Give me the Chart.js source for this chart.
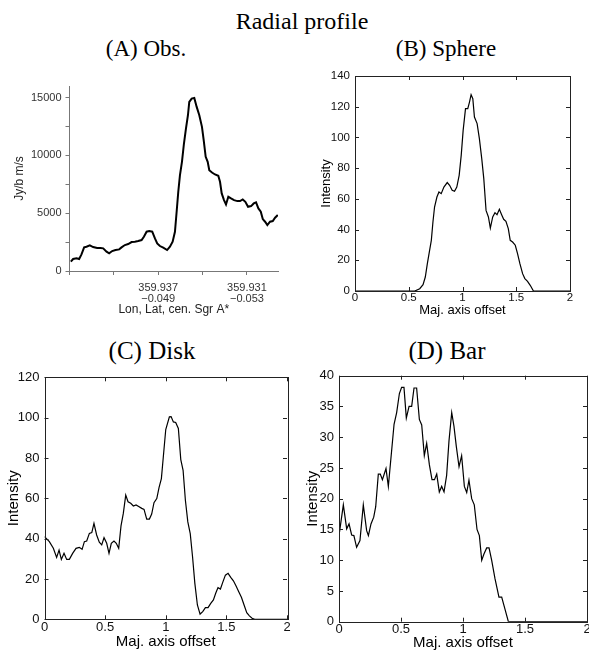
<!DOCTYPE html>
<html>
<head>
<meta charset="utf-8">
<script src="https://cdn.jsdelivr.net/npm/chart.js@4.4.0/dist/chart.umd.min.js"></script>
<style>
  body { margin: 0; background: #fff; width: 589px; height: 652px; position: relative; overflow: hidden; }
  canvas { position: absolute; }
  .ttl { position: absolute; font-family: 'Liberation Serif', 'Times New Roman', serif; font-size: 23px; line-height: 23px;
         white-space: nowrap; transform: translateX(-50%); color: #000; }
</style>
</head>
<body>
<div class="ttl" style="left:302px;top:9px;font-size:24px;line-height:24px">Radial profile</div>
<div class="ttl" style="left:146px;top:37px">(A) Obs.</div>
<div class="ttl" style="left:446px;top:37px">(B) Sphere</div>
<div class="ttl" style="left:152px;top:338px;font-size:25px;line-height:25px">(C) Disk</div>
<div class="ttl" style="left:447px;top:338px;font-size:25px;line-height:25px">(D) Bar</div>

<canvas id="obsChart" width="290" height="265" style="left:0;top:60px"></canvas>
<canvas id="sphereChart" width="294" height="265" style="left:295px;top:65px"></canvas>
<canvas id="diskChart" width="295" height="287" style="left:0;top:365px"></canvas>
<canvas id="barChart" width="294" height="287" style="left:295px;top:365px"></canvas>

<script>
// (A) observed profile, x in tick units along the cut
const obsX = [0.03, 0.082, 0.158, 0.217, 0.27, 0.33, 0.383, 0.458, 0.533, 0.623, 0.7, 0.76, 0.835, 0.894, 0.962,
  1.038, 1.12, 1.173, 1.248, 1.323, 1.4, 1.474, 1.549, 1.625, 1.677, 1.738, 1.797, 1.865, 1.926, 1.977,
  2.038, 2.113, 2.2, 2.264, 2.325, 2.377, 2.415, 2.452, 2.49, 2.535, 2.58, 2.625, 2.67, 2.7, 2.754, 2.813,
  2.867, 2.926, 2.986, 3.025, 3.07, 3.115, 3.151, 3.212, 3.28, 3.354, 3.393, 3.431, 3.483, 3.528, 3.58,
  3.641, 3.709, 3.784, 3.844, 3.905, 3.964, 4.025, 4.093, 4.153, 4.205, 4.258, 4.312, 4.357, 4.409, 4.46,
  4.52, 4.582, 4.634, 4.695];
const obsY = [803, 1036, 1094, 1036, 1439, 2044, 2100, 2216, 2073, 1986, 1986, 1957, 1669, 1525, 1727,
  1814, 1871, 2044, 2245, 2332, 2505, 2534, 2591, 2677, 2965, 3397, 3454, 3397, 2821, 2390,
  2159, 2015, 1814, 2101, 2534, 3397, 5124, 6851, 8291, 9440, 11026, 12320, 13472, 14625, 14913, 14970,
  14193, 13472, 12464, 11313, 9872, 9440, 8723, 8522, 8349, 8233, 7712, 6710, 6132, 5757, 6419,
  6275, 6132, 6045, 6045, 6189, 5987, 5555, 5613, 5843, 5930, 5411, 5124, 4491, 4261, 3972,
  4261, 4318, 4606, 4836];
const obsXTicks = [0, 1, 2, 3, 4];
const obsXLabels = ['', '', ['359.937', '\u22120.049'], '', ['359.931', '\u22120.053']];
const obsYTicks = [0, 2500, 5000, 7500, 10000, 12500, 15000];

// (B) sphere model
const sphereX = [0, 0.556, 0.602, 0.633, 0.654, 0.673, 0.694, 0.71, 0.725, 0.74, 0.762, 0.781, 0.802, 0.827,
  0.858, 0.88, 0.904, 0.926, 0.947, 0.969, 0.988, 1.006, 1.028, 1.049, 1.065, 1.08, 1.096, 1.111, 1.136,
  1.157, 1.179, 1.198, 1.219, 1.241, 1.259, 1.281, 1.302, 1.321, 1.343, 1.364, 1.383, 1.404, 1.426, 1.444,
  1.466, 1.491, 1.512, 1.534, 1.559, 1.58, 1.605, 1.63, 1.66, 2];
const sphereY = [0, 0, 1.5, 4.1, 9.1, 17.8, 26.5, 33, 44.9, 54.7, 61.2, 64.5, 63.4, 67.7,
  70.6, 68.8, 65.6, 64.9, 67.7, 75.3, 88.3, 104.6, 118.7, 118.7, 123, 127.8, 125.2, 113.3, 109,
  99.2, 86.2, 73.2, 52.5, 48.2, 41, 48.2, 51, 49.7, 53.2, 49.7, 46.7, 45.4, 40.6, 33,
  31.9, 29.8, 24.3, 17.8, 11.3, 8.1, 6.3, 3.7, 0, 0];

// (C) disk model
const diskX = [0, 0.04, 0.073, 0.1, 0.12, 0.139, 0.161, 0.183, 0.205, 0.232, 0.26, 0.287, 0.31, 0.329, 0.348,
  0.37, 0.39, 0.408, 0.43, 0.452, 0.472, 0.491, 0.513, 0.532, 0.551, 0.573, 0.592, 0.612, 0.631, 0.65,
  0.67, 0.689, 0.711, 0.733, 0.755, 0.777, 0.802, 0.821, 0.843, 0.865, 0.884, 0.903, 0.926, 0.945, 0.964,
  0.98, 1.0, 1.03, 1.044, 1.063, 1.082, 1.104, 1.124, 1.143, 1.162, 1.182, 1.202, 1.221, 1.24, 1.261,
  1.283, 1.305, 1.327, 1.349, 1.371, 1.393, 1.412, 1.431, 1.451, 1.47, 1.492, 1.514, 1.536, 1.558, 1.58,
  1.602, 1.624, 1.646, 1.668, 1.69, 1.712, 1.734, 2];
const diskY = [41, 38.5, 35.2, 30.7, 34.3, 29.7, 32.7, 29.7, 29.7, 32.7, 35.2, 35.7, 34.7, 38.5, 38.8,
  42.6, 43, 47.6, 41.8, 38.2, 36.9, 40.5, 37.7, 32.7, 37.7, 38.8, 37.7, 35.2, 46.3, 52.5,
  61.6, 58.3, 57.5, 56.2, 56.7, 55.9, 55, 54.5, 49.7, 49.7, 52.2, 57.8, 59.9, 65.4, 69.8,
  80.6, 94.1, 100.4, 100.5, 97.9, 97.6, 94.6, 79.2, 73.9, 59, 48.3, 42.5, 31, 17.8, 7.1,
  2.6, 3.8, 5.8, 5.8, 7.9, 9.6, 12.9, 15.7, 15, 18.3, 21.9, 22.8, 20.8, 19.1, 16.5,
  13.7, 10.9, 7.1, 3.3, 1.7, 0.5, 0, 0];

// (D) bar model
const barX = [0, 0.035, 0.062, 0.081, 0.102, 0.12, 0.142, 0.169, 0.196, 0.223, 0.237, 0.258, 0.28, 0.296,
  0.317, 0.333, 0.35, 0.379, 0.398, 0.444, 0.465, 0.487, 0.505, 0.524, 0.543, 0.565, 0.586, 0.605, 0.626,
  0.648, 0.667, 0.688, 0.707, 0.729, 0.75, 0.77, 0.788, 0.809, 0.828, 0.847, 0.868, 0.887, 0.909, 0.927,
  0.946, 0.968, 0.989, 1.011, 1.03, 1.048, 1.07, 1.091, 1.113, 1.132, 1.151, 1.169, 1.191, 1.21, 1.231,
  1.258, 1.29, 1.312, 1.339, 1.366, 2];
const barY = [14, 19, 15.1, 15.9, 14.1, 14, 12.1, 13.2, 19, 14.8, 14, 15.9, 17, 18.7,
  24, 24, 23.1, 24.9, 22, 32.1, 34, 37.1, 38.1, 38.1, 33.1, 35, 35, 38, 38,
  32.9, 32, 27, 29, 25.5, 23.1, 23.1, 24, 21.1, 22, 21.1, 23.8, 29.4, 34, 31.8,
  28.5, 25.2, 27, 22, 21, 23, 20, 19, 15, 14, 10, 11, 12, 12, 10,
  7, 4, 4, 2, 0, 0];

Chart.defaults.font.family = "'Liberation Sans', Arial, sans-serif";
Chart.defaults.color = '#000';
Chart.defaults.animation = false;

function toPoints(xs, ys) {
  return xs.map((x, i) => ({ x: x, y: ys[i] }));
}

// matplotlib-style frame with inward ticks on all four sides
const boxTicks = {
  id: 'boxTicks',
  afterDraw(chart) {
    const { ctx, chartArea: a, scales } = chart;
    const len = 4;
    ctx.save();
    ctx.strokeStyle = '#222';
    ctx.lineWidth = 1;
    ctx.beginPath();
    scales.x.ticks.forEach(t => {
      const px = Math.round(scales.x.getPixelForValue(t.value)) + 0.5;
      ctx.moveTo(px, a.bottom); ctx.lineTo(px, a.bottom - len);
      ctx.moveTo(px, a.top); ctx.lineTo(px, a.top + len);
    });
    scales.y.ticks.forEach(t => {
      const py = Math.round(scales.y.getPixelForValue(t.value)) + 0.5;
      ctx.moveTo(a.left, py); ctx.lineTo(a.left + len, py);
      ctx.moveTo(a.right, py); ctx.lineTo(a.right - len, py);
    });
    ctx.stroke();
    ctx.strokeRect(Math.round(a.left) + 0.5, Math.round(a.top) + 0.5,
      Math.round(a.right - a.left), Math.round(a.bottom - a.top));
    ctx.restore();
  }
};

function fixWidth(w) {
  return function (s) { s.width = w; s.paddingTop = 0; s.paddingBottom = 0; };
}
function fixHeight(h) {
  return function (s) { s.height = h; s.paddingLeft = 0; s.paddingRight = 0; };
}

function modelChart(id, xs, ys, yMax, yStep, box) {
  new Chart(document.getElementById(id), {
    type: 'scatter',
    data: {
      datasets: [{
        data: toPoints(xs, ys),
        showLine: true,
        borderColor: '#000',
        borderWidth: 1.2,
        pointRadius: 0,
        tension: 0
      }]
    },
    options: {
      responsive: false,
      layout: { padding: { top: box.padTop, right: box.padRight, left: 0, bottom: 0 } },
      plugins: { legend: { display: false }, tooltip: { enabled: false } },
      scales: {
        x: {
          type: 'linear', min: 0, max: 2,
          ticks: { stepSize: 0.5, padding: box.xTickPad, font: { size: box.tickSize }, color: '#111',
                   callback: v => String(v) },
          grid: { display: false, drawTicks: false },
          border: { display: false },
          title: { display: true, text: 'Maj. axis offset', font: { size: box.titleSize },
                   padding: { top: 0, bottom: box.xTitlePad } },
          afterFit: fixHeight(box.xHeight)
        },
        y: {
          min: 0, max: yMax,
          ticks: { stepSize: yStep, padding: 5, font: { size: box.tickSize }, color: '#111' },
          grid: { display: false, drawTicks: false },
          border: { display: false },
          title: { display: true, text: 'Intensity', font: { size: box.titleSize },
                   padding: { top: box.yTitlePad, bottom: 0 } },
          afterFit: fixWidth(box.yWidth)
        }
      }
    },
    plugins: [boxTicks]
  });
}

// (A) observation panel, plain axes with outward ticks
new Chart(document.getElementById('obsChart'), {
  type: 'scatter',
  data: {
    datasets: [{
      data: toPoints(obsX, obsY),
      showLine: true,
      borderColor: '#000',
      borderWidth: 2,
      pointRadius: 0,
      tension: 0
    }]
  },
  options: {
    responsive: false,
    layout: { padding: { top: 26, right: 12, left: 0, bottom: 0 } },
    plugins: { legend: { display: false }, tooltip: { enabled: false } },
    scales: {
      x: {
        type: 'linear', min: 0, max: 4.7,
        afterBuildTicks: s => { s.ticks = obsXTicks.map(v => ({ value: v })); },
        ticks: { autoSkip: false, maxRotation: 0, padding: 7, color: '#333',
                 font: { size: 11, lineHeight: 1.05 },
                 callback: (v, i) => obsXLabels[i] },
        grid: { drawOnChartArea: false, drawTicks: true, tickLength: 4, color: '#777' },
        border: { color: '#777', width: 1 },
        title: { display: true, text: 'Lon, Lat, cen. Sgr A*', color: '#222', font: { size: 12 },
                 padding: { top: 0, bottom: 8 } },
        afterFit: fixHeight(54)
      },
      y: {
        min: 0, max: 16000,
        afterBuildTicks: s => { s.ticks = obsYTicks.map(v => ({ value: v })); },
        ticks: { autoSkip: false, padding: 4, color: '#333', font: { size: 11 },
                 callback: v => (v % 5000 === 0 ? String(v) : '') },
        grid: { drawOnChartArea: false, drawTicks: true, tickLength: 4, color: '#777' },
        border: { color: '#777', width: 1 },
        title: { display: true, text: 'Jy/b m/s', color: '#222', font: { size: 12 },
                 padding: { top: 12, bottom: 0 } },
        afterFit: fixWidth(69.5)
      }
    }
  }
});

modelChart('sphereChart', sphereX, sphereY, 140, 20,
  { padTop: 11, padRight: 19, yWidth: 60, xHeight: 39, tickSize: 11.5, titleSize: 13,
    xTickPad: 0, xTitlePad: 12, yTitlePad: 24 });
modelChart('diskChart', diskX, diskY, 120, 20,
  { padTop: 12.3, padRight: 8, yWidth: 44.5, xHeight: 32.7, tickSize: 13, titleSize: 15,
    xTickPad: 0, xTitlePad: 1.3, yTitlePad: 5 });
modelChart('barChart', barX, barY, 40, 5,
  { padTop: 10.7, padRight: 2, yWidth: 44, xHeight: 30.3, tickSize: 13, titleSize: 15,
    xTickPad: 0, xTitlePad: 0, yTitlePad: 9 });
</script>
</body>
</html>
